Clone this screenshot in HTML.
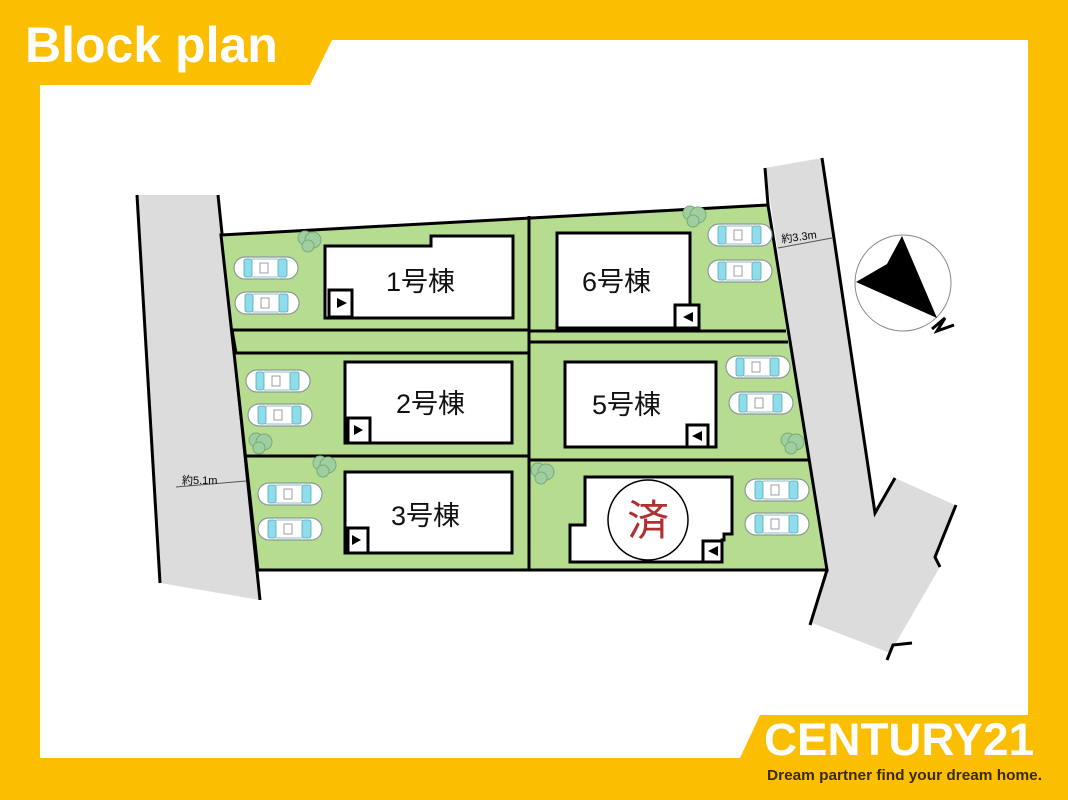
<!DOCTYPE html>
<html><head><meta charset="utf-8"><style>
html,body{margin:0;padding:0;width:1068px;height:800px;overflow:hidden;background:#fcbe00}
svg{display:block}
</style></head><body>
<svg width="1068" height="800" viewBox="0 0 1068 800" xmlns="http://www.w3.org/2000/svg" font-family="Liberation Sans, Noto Sans CJK JP, sans-serif">
<defs>
<g id="car">
<rect x="-32" y="-11" width="64" height="22" rx="11" fill="#fff" stroke="#8a9a9a" stroke-width="1.2"/>
<rect x="-22" y="-9" width="8" height="18" rx="2" fill="#8fdcec" stroke="#5aa" stroke-width="0.8"/>
<rect x="12" y="-9" width="9" height="18" rx="2" fill="#8fdcec" stroke="#5aa" stroke-width="0.8"/>
<rect x="-6" y="-5" width="8" height="10" fill="#fff" stroke="#888" stroke-width="0.8"/>
<line x1="-14" y1="-9" x2="12" y2="-9" stroke="#6aa" stroke-width="0.8"/>
<line x1="-14" y1="9" x2="12" y2="9" stroke="#6aa" stroke-width="0.8"/>
</g>
<g id="tree">
<circle cx="0" cy="0" r="7" fill="#9fcf9f" stroke="#7aa97a"/>
<circle cx="8" cy="2" r="8" fill="#9fcf9f" stroke="#7aa97a"/>
<circle cx="3" cy="8" r="6" fill="#9fcf9f" stroke="#7aa97a"/>
</g>
</defs>
<!-- white area -->
<polygon points="40,85 310,85 332,40 1028,40 1028,758 740,758 40,758" fill="#fff"/>
<polygon points="740,758 760,715 1028,715 1028,758" fill="#fcbe00"/>
<text x="25" y="62" font-size="50" font-weight="bold" fill="#fff">Block plan</text>
<text x="765" y="762" font-size="0" fill="#fff"></text>
<text x="764" y="760" font-size="45" font-weight="bold" fill="#fff" textLength="270" lengthAdjust="spacingAndGlyphs" dy="-5">CENTURY21</text>
<text x="767" y="780" font-size="15" font-weight="bold" fill="#3a2a00" textLength="275" lengthAdjust="spacingAndGlyphs">Dream partner find your dream home.</text>

<!-- left road -->
<polygon points="137,195 218,195 260,600 160,583" fill="#dcdcdc"/>
<line x1="137" y1="195" x2="160" y2="583" stroke="#000" stroke-width="3"/>
<line x1="218" y1="195" x2="260" y2="600" stroke="#000" stroke-width="3"/>
<!-- right road -->
<polygon points="765,168 822,158 875,513 895,478 955,505 937,558 940,567 890,653 812,623 827,570" fill="#dcdcdc"/>
<polyline points="822,158 875,513 895,478" fill="none" stroke="#000" stroke-width="3"/>
<polyline points="956,505 935,557 940,567" fill="none" stroke="#000" stroke-width="3"/>
<line x1="827" y1="570" x2="810" y2="625" stroke="#000" stroke-width="3"/>
<polyline points="887,660 893,645 912,643" fill="none" stroke="#000" stroke-width="3"/>

<!-- site -->
<polygon points="221,235 768,205 827,570 258,570" fill="#b6dd8f" stroke="#000" stroke-width="3"/>
<line x1="765" y1="168" x2="768" y2="205" stroke="#000" stroke-width="3"/>
<line x1="529" y1="216" x2="529" y2="570" stroke="#000" stroke-width="3"/>
<line x1="530" y1="216" x2="530" y2="570" stroke="#000" stroke-width="1"/>
<line x1="232" y1="330" x2="529" y2="330" stroke="#000" stroke-width="3"/>
<line x1="234" y1="353" x2="529" y2="353" stroke="#000" stroke-width="3"/>
<line x1="245" y1="456" x2="529" y2="456" stroke="#000" stroke-width="3"/>
<line x1="529" y1="331" x2="786" y2="331" stroke="#000" stroke-width="3"/>
<line x1="529" y1="342" x2="788" y2="342" stroke="#000" stroke-width="3"/>
<line x1="529" y1="460" x2="808" y2="460" stroke="#000" stroke-width="3"/>
<line x1="232" y1="330" x2="236" y2="353" stroke="#000" stroke-width="3"/>

<!-- buildings -->
<g fill="#fff" stroke="#000" stroke-width="3">
<polygon points="325,246 431,246 431,236 513,236 513,318 325,318"/>
<rect x="329" y="290" width="23" height="27"/>
<rect x="557" y="233" width="133" height="95"/>
<rect x="675" y="305" width="24" height="23"/>
<polygon points="345,362 512,362 512,443 345,443"/>
<rect x="348" y="418" width="22" height="25"/>
<rect x="565" y="362" width="151" height="85"/>
<rect x="687" y="425" width="21" height="22"/>
<polygon points="345,472 512,472 512,553 345,553"/>
<rect x="348" y="528" width="20" height="25"/>
<polygon points="585,477 732,477 732,534 724,534 724,540 722,540 722,562 570,562 570,525 585,525"/>
<rect x="703" y="541" width="19" height="21"/>
</g>
<g font-size="11" fill="#000">
<polygon points="337,298 347,303 337,308"/>
<polygon points="693,312 683,317 693,322"/>
<polygon points="354,425 363,430 354,435"/>
<polygon points="702,431 692,436 702,441"/>
<polygon points="352,535 361,540 352,545"/>
<polygon points="718,546 708,551 718,556"/>
</g>
<g font-size="27" fill="#111">
<text x="386" y="291">1号棟</text>
<text x="582" y="291">6号棟</text>
<text x="396" y="413">2号棟</text>
<text x="592" y="414">5号棟</text>
<text x="391" y="525">3号棟</text>
</g>
<circle cx="648" cy="520" r="40" fill="#fff" stroke="#000" stroke-width="1.5"/>
<text x="648" y="535" font-size="42" fill="#b03030" text-anchor="middle">済</text>

<!-- trees -->
<use href="#tree" x="305" y="238"/>
<use href="#tree" x="690" y="213"/>
<use href="#tree" x="256" y="440"/>
<use href="#tree" x="320" y="463"/>
<use href="#tree" x="788" y="440"/>
<use href="#tree" x="538" y="470"/>

<!-- cars -->
<use href="#car" x="266" y="268"/>
<use href="#car" x="267" y="303"/>
<use href="#car" x="740" y="235"/>
<use href="#car" x="740" y="271"/>
<use href="#car" x="278" y="381"/>
<use href="#car" x="280" y="415"/>
<use href="#car" x="758" y="367"/>
<use href="#car" x="761" y="403"/>
<use href="#car" x="290" y="494"/>
<use href="#car" x="290" y="529"/>
<use href="#car" x="777" y="490"/>
<use href="#car" x="777" y="524"/>

<!-- dimensions -->
<line x1="176" y1="487" x2="246" y2="481" stroke="#555" stroke-width="1"/>
<text x="182" y="484" font-size="11" fill="#000">約5.1m</text>
<line x1="778" y1="248" x2="832" y2="238" stroke="#555" stroke-width="1"/>
<text x="782" y="243" font-size="11" fill="#000" transform="rotate(-8 782 243)">約3.3m</text>

<!-- compass -->
<circle cx="903" cy="283" r="48" fill="#fff" stroke="#888" stroke-width="1"/>
<polygon points="902,236 887,264 856,282 937,318" fill="#000"/>
<polyline points="932,329 945,318 937,331 954,325" fill="none" stroke="#000" stroke-width="3"/>
</svg>
</body></html>
